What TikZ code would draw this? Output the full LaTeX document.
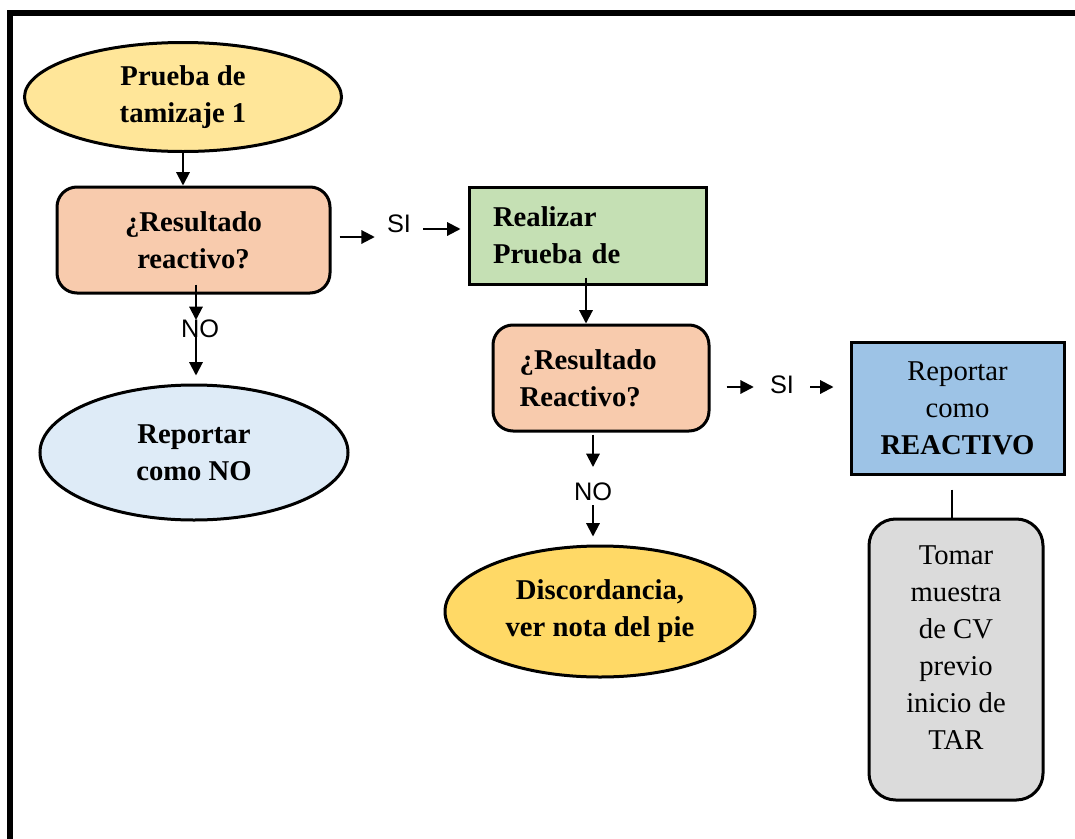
\documentclass[tikz,border=0pt]{standalone}
\usepackage{fontspec}
\setmainfont{Liberation Serif}
\newfontfamily\labelfont{Liberation Sans}
\usetikzlibrary{arrows.meta,shapes.geometric,calc}
\definecolor{sand}{HTML}{FFE699}
\definecolor{peach}{HTML}{F8CBAD}
\definecolor{paleblue}{HTML}{DEEBF7}
\definecolor{sage}{HTML}{C5E0B4}
\definecolor{skyblue}{HTML}{9DC3E6}
\definecolor{silver}{HTML}{DBDBDB}
\definecolor{amber}{HTML}{FFD966}
\newcommand\boxfont{\fontsize{21.5}{27.75}\selectfont}

\begin{document}
\begin{tikzpicture}[x=0.75pt,y=-0.75pt,
  every node/.style={font=\boxfont,align=center},
  oval/.style={ellipse,draw,line width=2.25pt,inner sep=0pt,font=\boxfont\bfseries},
  qbox/.style={draw,line width=2.25pt,rounded corners=15pt,fill=peach,font=\boxfont\bfseries},
  sqbox/.style={draw,line width=2.25pt},
  tag/.style={font=\labelfont\fontsize{19}{21}\selectfont,inner xsep=9pt},
  arr/.style={-{Triangle[length=10pt,width=10pt]},line width=1.5pt}]
\useasboundingbox (0,0) rectangle (1075,839);
\draw[line width=4.5pt] (10,845) -- (10,13) -- (1075,13);
\node[oval,fill=sand,minimum width=237.75pt,minimum height=81.75pt] (start) at (183,97) {Prueba de\\tamizaje 1};
\node[qbox,minimum width=204.75pt,minimum height=79.5pt] (q1) at (193.5,240) {¿Resultado\\reactivo?};
\node[oval,fill=paleblue,minimum width=231pt,minimum height=101.25pt] (rno) at (194,452.5) {Reportar\\como NO};
\node[sqbox,fill=sage,font=\boxfont\bfseries,text width=141.75pt,align=left,inner xsep=18pt,minimum height=72.75pt] (p2) at (587.5,235.5) {Realizar\\Prueba de};
\node[qbox,text width=122pt,align=left,inner xsep=20pt,minimum height=79.5pt] (q2) at (601,378) {¿Resultado\\Reactivo?};
\node[sqbox,fill=skyblue,minimum width=159.75pt,minimum height=99pt] (r2) at (957.5,408) {Reportar\\como\\\textbf{REACTIVO}};
\node[oval,fill=amber,minimum width=232.5pt,minimum height=98.25pt] (disc) at (600,611.5) {Discordancia,\\ver nota del pie};
\node[sqbox,rounded corners=20pt,fill=silver,minimum width=130.5pt,minimum height=210.75pt] (tar) at (956,659.5) {};
\node (tartxt) at (956,648) {Tomar\\muestra\\de CV\\previo\\inicio de\\TAR};
% etiquetas SI / NO
\node[tag] (siA) at (399,224) {SI};
\node[tag,inner xsep=12pt] (siB) at (782,385) {SI};
\node[tag] (noA) at (200,329) {NO};
\node[tag] (noB) at (593,492) {NO};
\coordinate (kA) at (196,320);
\draw[arr] (start) -- (start |- q1.north);
\draw[arr] ($(q1.south -| kA)+(0,-10)$) -- (kA);
\draw[arr,shorten >=6pt] (kA) -- (kA |- rno.north);
\draw[arr] ($(q1.east)+(8,-3)$) -- ($(siA.west)+(0,13)$);
\draw[arr] ($(siA.east)+(0,5)$) -- ($(siA.east -| p2.west)+(-7,5)$);
\draw[arr] ($(p2.south)+(-1.5,-8)$) -- ($(p2.south |- q2.north)+(-1.5,0)$);
\draw[arr] ($(q2.east)+(16,9)$) -- ($(siB.west)+(0,2)$);
\draw[arr] ($(siB.east)+(0,2)$) -- ($(siB.east -| r2.west)+(-16,2)$);
\draw[arr] ($(q2.south)+(-8,2)$) -- ($(noB)+(0,-25)$);
\draw[arr] ($(noB)+(0,13)$) -- ($(noB |- disc.north)+(0,-8)$);
\draw[line width=1.5pt] ($(r2.south)+(-5.5,14)$) -- ($(tar.north)+(-4,0)$);
\end{tikzpicture}
\end{document}
